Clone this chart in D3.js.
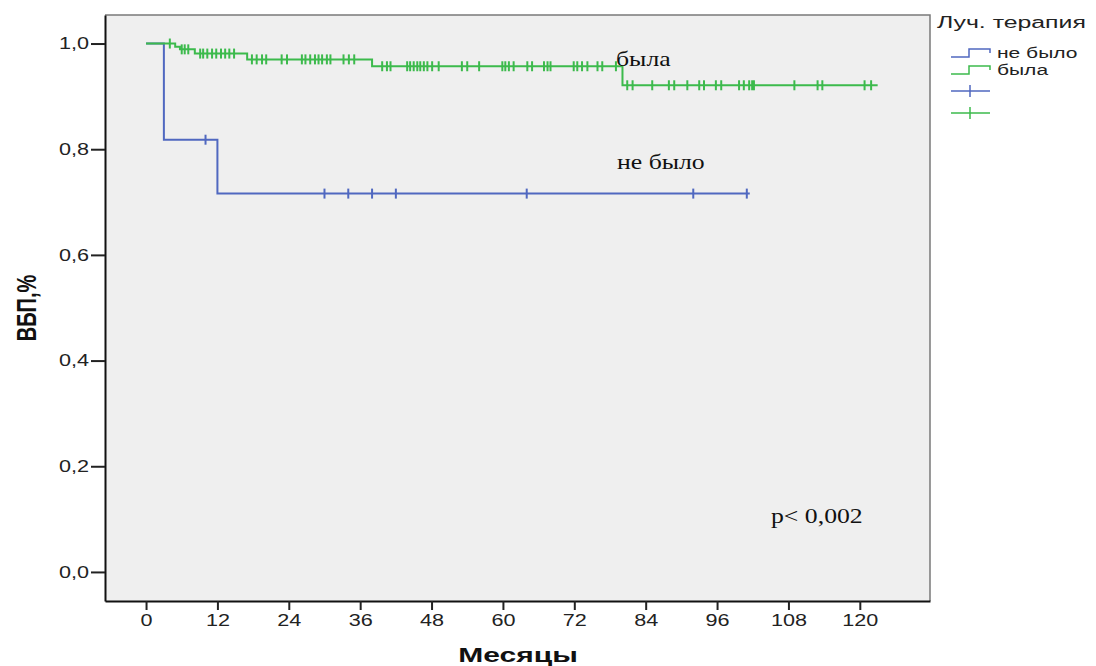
<!DOCTYPE html>
<html lang="ru">
<head>
    <meta charset="UTF-8">
    <title>ВБП</title>
    <script src="https://d3js.org/d3.v7.min.js" charset="utf-8"></script>
    <style>
        body { margin: 0; background: #fff; }
        .sans { font-family: "Liberation Sans", Arial, sans-serif; }
        .serif { font-family: "Liberation Serif", "Times New Roman", serif; }
    </style>
</head>
<body>
<script>
    // Kaplan-Meier data (months, survival)
    var blueTimes = [0, 3, 12];
    var blueSurv = [1, 0.818, 0.716];
    var blueEnd = 101.5;
    var blueCensor = [10, 30, 34, 38, 42, 64, 92, 101];

    var greenTimes = [0, 4.9, 5.7, 8.2, 17, 38, 80.1];
    var greenSurv = [1, 0.994, 0.989, 0.981, 0.970, 0.957, 0.921];
    var greenEnd = 123;
    var greenCensor = [4.0, 6.0, 6.5, 7.1, 9.1, 9.6, 10.3, 11.1, 11.8, 12.6, 13.3, 14.0, 14.8,
        17.8, 18.6, 19.5, 20.2, 22.8, 23.7, 26.2, 26.8, 27.6, 28.4, 29.0, 29.6, 30.4, 31.0,
        33.2, 34.1, 35.0, 39.7, 40.5, 41.1, 43.9, 44.4, 45.0, 45.6, 46.1, 46.7, 47.3, 48.1,
        49.2, 53.1, 54.0, 56.0, 59.9, 60.4, 61.0, 61.8, 64.1, 64.9, 66.9, 67.5, 68.0, 71.9,
        72.5, 73.3, 74.2, 75.9, 76.7, 79.0, 80.9, 81.8, 85.1, 87.9, 88.8, 91.0, 93.0, 93.8,
        95.8, 96.7, 99.7, 100.5, 101.4, 101.9, 102.2, 109.0, 112.9, 113.7, 120.8, 121.9];

    var xTicks = [0, 12, 24, 36, 48, 60, 72, 84, 96, 108, 120];
    var yTicks = [0, 0.2, 0.4, 0.6, 0.8, 1.0];
    var groupNames = ["не было", "была"];

    var blue = "#5068c0";
    var green = "#3cba4c";

    var width = 1096, height = 666;
    var plotL = 105, plotR = 930, plotT = 15, plotB = 601;

    var svg = d3.select("body").append("svg")
        .attr("width", width)
        .attr("height", height);

    var x = d3.scaleLinear().domain([-6.9, 131.8]).range([plotL, plotR]);
    var y = d3.scaleLinear().domain([-0.055, 1.054]).range([plotB, plotT]);

    // the picture is stretched sideways, so stretch the text the same way
    function widen(sel, k) {
        sel.each(function () {
            var w = this.getComputedTextLength();
            d3.select(this).attr("textLength", w * k).attr("lengthAdjust", "spacingAndGlyphs");
        });
    }

    // plot background + top/right frame
    svg.append("rect")
        .attr("x", plotL).attr("y", plotT)
        .attr("width", plotR - plotL).attr("height", plotB - plotT)
        .attr("fill", "#efefef");
    svg.append("path")
        .attr("d", "M" + plotL + "," + plotT + "H" + plotR + "V" + plotB)
        .attr("fill", "none")
        .attr("stroke", "#7a7a7a")
        .attr("stroke-width", 1.5);

    // axes
    var fmt = function (d) { return d3.format(".1f")(d).replace(".", ","); };

    var gy = svg.append("g")
        .attr("transform", "translate(" + plotL + ",0)")
        .call(d3.axisLeft(y).tickValues(yTicks).tickFormat(fmt).tickSize(14).tickSizeOuter(0).tickPadding(2));
    var gx = svg.append("g")
        .attr("transform", "translate(0," + plotB + ")")
        .call(d3.axisBottom(x).tickValues(xTicks).tickSize(9).tickSizeOuter(0).tickPadding(5));

    [gx, gy].forEach(function (g) {
        g.select(".domain").attr("stroke", "#111").attr("stroke-width", 2);
        g.selectAll(".tick line").attr("stroke", "#222").attr("stroke-width", 2);
        g.selectAll(".tick text")
            .attr("class", "sans")
            .attr("font-size", 16)
            .attr("fill", "#222")
            .call(widen, 1.35);
    });

    // survival curves
    function stepPoints(times, surv, end) {
        var pts = times.map(function (t, i) { return [t, surv[i]]; });
        pts.push([end, surv[surv.length - 1]]);
        return pts;
    }
    function survAt(times, surv, t) {
        return surv[d3.bisectRight(times, t) - 1];
    }

    var line = d3.line()
        .x(function (d) { return x(d[0]); })
        .y(function (d) { return y(d[1]); })
        .curve(d3.curveStepAfter);

    var groups = [
        { times: blueTimes, surv: blueSurv, end: blueEnd, censor: blueCensor, color: blue },
        { times: greenTimes, surv: greenSurv, end: greenEnd, censor: greenCensor, color: green }
    ];

    groups.forEach(function (g) {
        var layer = svg.append("g");
        layer.append("path")
            .datum(stepPoints(g.times, g.surv, g.end))
            .attr("d", line)
            .attr("fill", "none")
            .attr("stroke", g.color)
            .attr("stroke-width", 2);
        layer.selectAll("line.cens")
            .data(g.censor)
            .enter()
            .append("line")
            .attr("class", "cens")
            .attr("x1", function (t) { return x(t); })
            .attr("x2", function (t) { return x(t); })
            .attr("y1", function (t) { return y(survAt(g.times, g.surv, t)) - 5; })
            .attr("y2", function (t) { return y(survAt(g.times, g.surv, t)) + 5; })
            .attr("stroke", g.color)
            .attr("stroke-width", 2);
    });

    // axis titles
    svg.append("text")
        .attr("class", "sans")
        .attr("x", 518).attr("y", 662)
        .attr("text-anchor", "middle")
        .attr("font-size", 20)
        .attr("font-weight", "bold")
        .attr("fill", "#111")
        .text("Месяцы")
        .call(widen, 1.5);

    svg.append("text")
        .attr("class", "sans")
        .attr("transform", "translate(36,308) scale(1.4,1) rotate(-90)")
        .attr("text-anchor", "middle")
        .attr("font-size", 20)
        .attr("font-weight", "bold")
        .attr("fill", "#111")
        .text("ВБП,%");

    // legend
    var lg = svg.append("g");
    lg.append("text")
        .attr("class", "sans")
        .attr("x", 937).attr("y", 28)
        .attr("font-size", 16)
        .attr("fill", "#222")
        .text("Луч. терапия")
        .call(widen, 1.55);

    [blue, green].forEach(function (c, i) {
        var yy = 57 + i * 17;
        lg.append("path")
            .attr("d", "M951," + yy + "H969V" + (yy - 8) + "H990V" + (yy - 4))
            .attr("fill", "none").attr("stroke", c).attr("stroke-width", 1.5);
        lg.append("text")
            .attr("class", "sans")
            .attr("x", 997).attr("y", yy + 1)
            .attr("font-size", 14)
            .attr("fill", "#222")
            .text(groupNames[i])
            .call(widen, 1.5);
        var yc = 91 + i * 22;
        lg.append("path")
            .attr("d", "M951," + yc + "H990M970," + (yc - 6) + "V" + (yc + 6))
            .attr("fill", "none").attr("stroke", c).attr("stroke-width", 1.5);
    });

    // annotations
    var notes = [
        { t: "была", x: 616, y: 66 },
        { t: "не было", x: 617, y: 169 },
        { t: "p< 0,002", x: 771, y: 523 }
    ];
    svg.selectAll("text.note")
        .data(notes)
        .enter()
        .append("text")
        .attr("class", "note serif")
        .attr("x", function (d) { return d.x; })
        .attr("y", function (d) { return d.y; })
        .attr("font-size", 22)
        .attr("fill", "#111")
        .text(function (d) { return d.t; })
        .call(widen, 1.17);
</script>
</body>
</html>
